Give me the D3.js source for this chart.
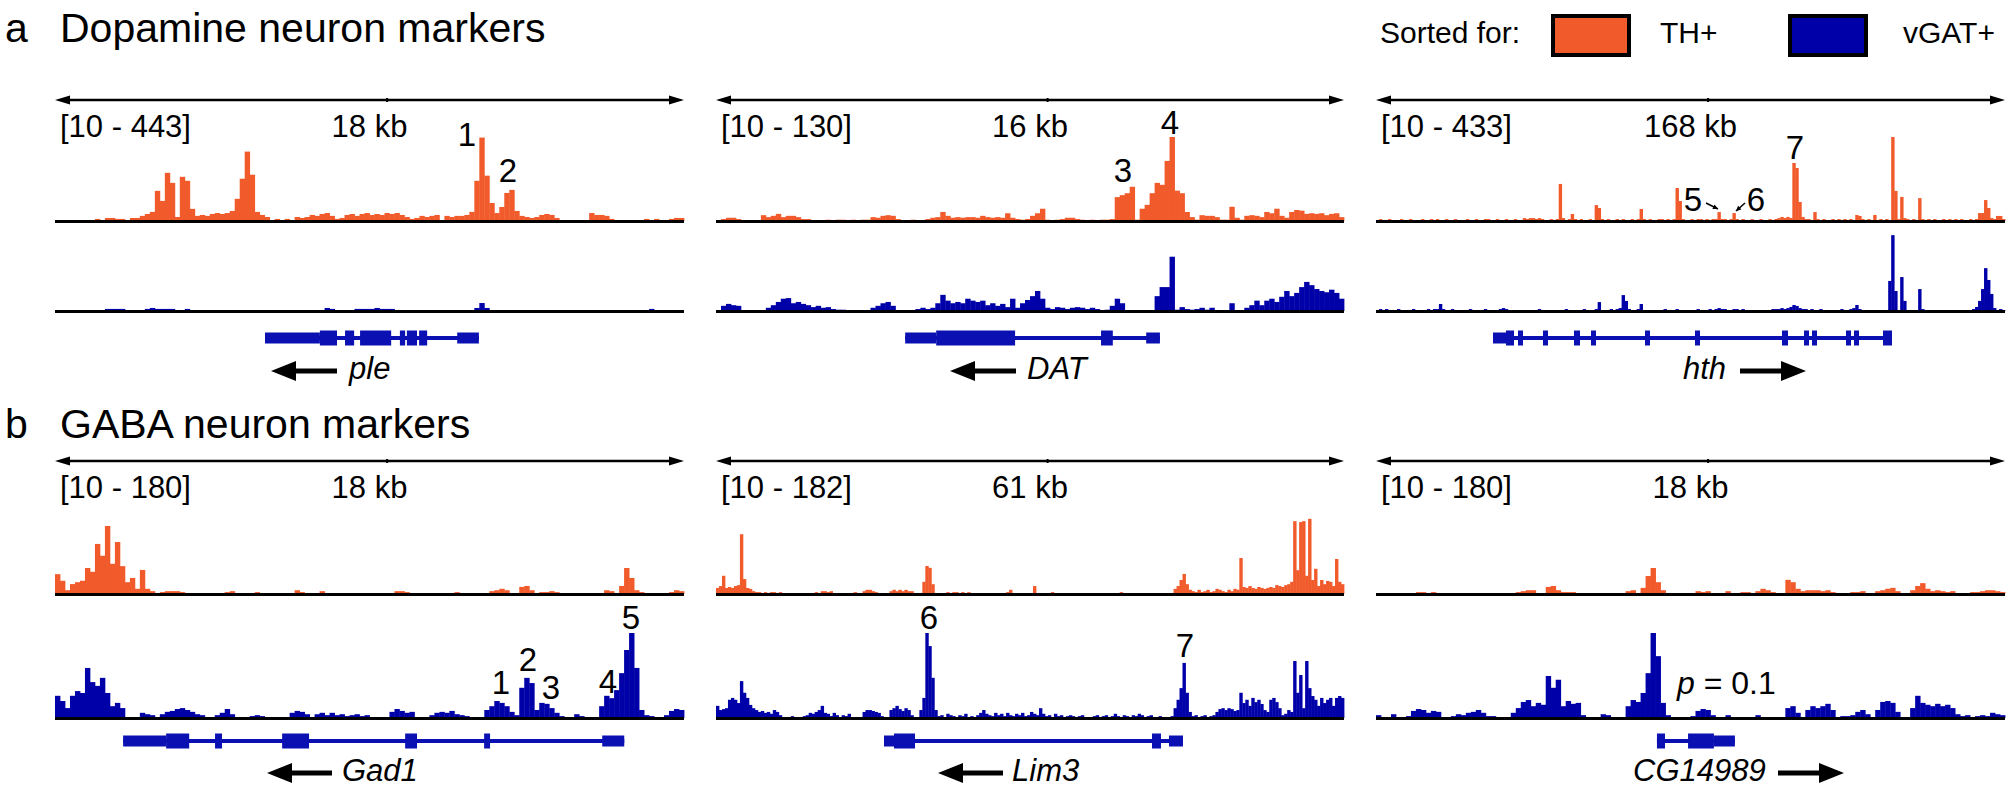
<!DOCTYPE html>
<html><head><meta charset="utf-8">
<script src="https://cdn.jsdelivr.net/npm/d3@7"></script>
<style>
body{margin:0;background:#fff}
svg{display:block}
text{font-family:"Liberation Sans",Arial,Helvetica,sans-serif;fill:#000}
</style>
</head><body>
<svg id="c" width="2006" height="791"></svg>
<script>
// ---------------- DATA ----------------
const rowLetters = ["a", "b"];
const rowTitles = ["Dopamine neuron markers", "GABA neuron markers"];
const legendTitle = "Sorted for:";
const seriesNames = ["TH+", "vGAT+"];
const geneNames = ["ple", "DAT", "hth", "Gad1", "Lim3", "CG14989"];
const geneStrand = [-1, -1, 1, -1, -1, 1];
const windowKb = [18, 16, 168, 18, 61, 18];
const windowLabels = ["18 kb", "16 kb", "168 kb", "18 kb", "61 kb", "18 kb"];
const rangeMin = [10, 10, 10, 10, 10, 10];
const rangeMax = [443, 130, 433, 180, 182, 180];

// coverage (binned, evenly spaced across each window)
const thPle = [5,5,0,5,5,0,5,5,11,5,16,16,11,11,5,16,16,27,37,48,159,106,254,201,21,233,212,64,27,32,27,37,42,37,42,53,117,223,366,244,48,32,21,5,11,5,11,5,21,16,21,32,27,37,42,27,11,16,32,37,27,37,42,32,37,32,42,37,42,32,21,11,16,27,21,27,32,5,27,21,27,27,32,48,212,440,239,95,42,74,148,164,53,27,21,16,21,32,37,32,16,5,5,0,5,5,5,42,32,32,27,11,5,0,5,5,0,5,11,5,11,5,5,11,16,16];
const vgPle = [0,5,5,0,0,5,5,5,0,0,11,11,11,11,0,0,5,0,11,16,11,11,11,11,0,0,11,5,0,0,0,0,5,0,0,0,0,0,5,0,0,0,0,0,0,0,0,0,0,0,0,0,0,0,16,11,0,0,0,5,11,11,11,11,16,11,11,11,5,5,0,0,0,0,0,0,0,0,0,0,0,0,0,0,16,42,16,5,0,5,0,0,0,0,0,0,0,0,0,0,0,0,0,0,0,0,0,0,0,0,0,0,0,0,0,0,0,0,5,11,5,0,0,0,0,0];
const thDat = [0,3,5,5,3,0,0,0,0,9,6,8,11,6,8,8,6,3,3,0,0,0,2,0,2,2,0,2,0,2,2,6,5,8,9,8,3,0,0,2,0,0,3,5,6,14,8,5,6,5,6,6,5,8,6,5,6,5,12,5,3,2,3,8,12,19,2,0,2,3,5,5,3,2,0,2,0,2,2,3,37,40,43,53,2,19,25,43,59,56,93,130,47,43,14,6,2,9,8,8,6,2,2,22,5,2,8,9,8,6,14,12,19,8,5,14,17,16,11,12,11,12,9,11,12,6];
const vgDat = [0,8,11,9,8,0,0,0,0,0,5,9,14,19,20,12,14,11,9,6,8,5,6,3,2,2,0,0,0,0,0,5,8,12,14,8,0,0,0,0,3,5,3,5,12,25,16,12,14,12,19,16,14,16,9,12,8,11,6,19,5,12,17,23,31,19,5,3,6,5,3,5,6,5,3,5,3,0,2,8,19,12,0,0,0,0,0,0,23,37,37,84,2,6,3,2,3,5,2,5,0,0,0,12,0,0,5,9,16,9,16,19,14,22,31,23,28,37,45,40,34,31,29,33,28,19];
const thHth = [5,10,5,5,10,5,0,5,10,5,5,10,5,5,0,10,5,5,10,5,10,5,5,10,5,5,10,5,0,5,10,5,5,10,5,5,10,10,5,5,10,5,5,10,5,5,10,5,5,15,10,15,15,10,15,10,5,5,10,5,10,191,15,5,10,36,10,5,10,5,5,10,5,82,67,10,5,10,5,5,10,5,10,5,5,10,5,10,62,10,5,10,5,5,10,10,5,10,5,10,170,103,10,5,5,10,5,10,10,5,10,5,10,10,46,10,10,5,10,41,10,5,10,5,5,10,5,5,10,5,5,10,5,10,15,21,15,21,15,299,273,98,21,10,10,5,46,10,5,10,5,5,10,5,10,5,10,5,10,5,31,26,10,5,10,5,31,5,10,5,10,5,433,155,10,124,15,10,5,10,5,118,10,5,10,5,10,5,5,10,5,10,5,10,5,10,5,5,10,5,10,41,41,108,67,15,10,26,26,10];
const vgHth = [5,10,5,10,5,0,5,10,5,5,0,5,10,5,0,5,5,10,5,10,10,36,10,5,5,10,5,5,0,5,5,10,5,5,0,5,10,5,0,5,5,10,15,10,5,5,0,5,5,0,5,5,0,5,10,5,0,5,0,5,5,0,5,10,0,5,5,0,5,10,5,0,5,10,46,5,5,0,10,5,10,15,82,52,10,5,5,10,36,5,5,0,5,0,5,5,10,0,5,0,10,5,5,0,5,0,5,10,5,0,5,10,5,10,15,10,10,5,5,10,10,5,10,5,5,0,5,0,5,5,5,5,10,10,10,15,10,15,21,31,26,15,10,10,5,10,5,5,10,5,5,0,5,5,5,10,5,5,10,15,31,10,5,5,5,0,0,0,5,0,0,155,391,103,5,175,52,5,0,0,5,113,10,0,0,0,0,0,5,0,0,0,0,5,5,5,0,5,5,10,21,52,113,221,160,88,15,5,10,5];
const thGad1 = [42,28,8,21,25,28,55,47,106,81,144,64,110,59,25,34,11,51,11,6,2,4,6,6,6,4,2,0,0,0,0,0,0,0,4,6,0,0,0,0,4,0,0,0,0,0,0,0,8,4,0,0,0,6,2,0,0,0,0,0,0,0,0,0,0,0,0,0,6,6,4,0,0,0,0,0,0,0,0,0,4,0,0,0,0,0,0,6,8,11,8,0,0,15,17,8,0,4,4,6,4,0,0,0,0,0,0,0,0,0,8,6,0,17,55,34,8,4,0,0,0,0,0,4,8,6];
const vgGad1 = [47,36,21,47,57,53,106,76,68,85,53,25,32,21,0,2,0,11,8,6,0,8,13,15,19,21,17,13,8,6,0,0,6,11,19,8,0,0,0,4,6,4,2,0,0,0,0,11,15,13,8,0,8,11,6,11,6,8,4,6,8,4,6,2,0,0,0,13,19,15,11,13,0,0,0,6,11,13,11,15,8,6,4,2,0,0,17,25,36,32,25,13,6,64,85,74,17,32,30,21,11,4,2,0,8,4,2,0,0,25,47,42,59,95,144,180,106,17,6,4,0,0,6,15,19,17];
const thLim3 = [13,17,39,13,15,13,17,19,128,32,13,11,6,4,4,2,4,2,4,4,2,4,0,2,0,2,2,0,2,0,2,2,2,4,2,6,6,4,6,2,0,2,2,2,0,2,4,2,2,6,9,9,6,4,0,0,0,0,6,9,6,9,6,9,6,6,0,0,0,26,60,56,21,2,0,2,0,4,2,4,4,2,4,2,4,2,0,2,0,2,2,0,2,2,0,2,2,4,9,2,0,2,0,2,2,0,17,2,0,2,2,0,4,2,2,0,2,2,0,2,2,0,2,0,0,0,0,2,2,0,2,2,2,0,2,4,2,0,2,2,0,2,2,0,2,2,2,0,0,0,0,0,0,11,17,30,43,21,9,6,4,9,4,6,9,4,6,11,9,6,4,9,6,11,9,77,15,13,17,13,11,15,13,11,13,15,13,19,17,15,19,21,26,156,51,154,156,39,161,30,54,17,30,21,28,26,17,75,26,21];
const vgLim3 = [26,17,19,21,39,43,39,32,79,54,43,28,21,17,13,15,11,13,9,17,13,6,2,0,0,4,2,0,2,4,6,11,9,13,17,26,11,9,4,11,6,2,6,4,9,2,0,2,0,13,17,17,15,13,11,4,0,0,17,21,26,19,15,21,17,6,0,0,17,43,182,154,86,17,4,6,2,9,6,4,2,6,4,9,2,4,2,6,11,17,9,6,4,11,6,9,4,11,6,4,9,6,11,4,6,13,9,6,21,9,4,6,2,9,4,6,2,4,6,4,2,4,6,2,0,2,4,6,2,4,6,2,4,9,4,2,6,4,2,6,4,9,6,2,4,6,2,0,4,2,0,0,4,21,39,64,118,54,13,4,6,2,4,6,2,4,6,13,19,21,17,21,19,15,17,54,32,39,26,43,34,39,30,17,13,39,43,34,21,6,9,17,13,122,54,92,21,122,64,47,39,26,43,32,39,43,26,43,47,43];
const thCG14989 = [0,0,0,0,0,0,0,0,4,4,2,4,0,0,0,0,0,0,0,0,0,2,0,0,0,0,0,0,4,6,8,8,0,0,15,17,8,4,4,4,2,0,0,0,0,0,0,0,0,0,6,8,0,13,38,55,25,8,0,0,0,0,0,2,6,4,6,2,0,0,6,0,0,4,4,0,6,11,8,4,0,0,30,25,11,6,8,8,8,6,8,4,0,0,2,4,4,6,2,0,6,8,11,13,6,0,0,8,17,23,11,6,8,6,4,6,2,0,2,4,4,6,8,8,6,4];
const vgCG14989 = [6,0,2,8,0,2,4,15,19,17,11,15,13,2,0,4,8,6,11,13,17,11,4,4,2,0,0,11,21,34,38,25,32,28,89,64,81,25,36,30,32,6,2,0,0,8,6,0,0,0,25,38,34,53,95,180,131,32,6,0,0,0,0,4,15,19,17,6,0,0,6,0,0,0,0,0,6,0,0,0,0,0,21,25,11,0,17,25,21,25,30,17,0,4,4,6,13,17,8,0,17,34,36,32,13,0,0,21,47,32,28,25,30,25,28,21,8,4,6,2,4,6,4,11,8,6];

// gene models: [startKb, endKb, part]
const modelPle = [[6.01,7.58,"utr"],[7.58,8.07,"cds"],[8.30,8.56,"cds"],[8.73,9.62,"cds"],[9.87,10.02,"cds"],[10.07,10.36,"cds"],[10.42,10.65,"cds"],[11.51,12.13,"utr"]];
const modelDat = [[4.82,5.61,"utr"],[5.61,7.62,"cds"],[9.81,10.11,"cds"],[10.96,11.31,"utr"]];
const modelHth = [[31.25,34.72,"utr"],[34.72,36.86,"cds"],[37.93,39.26,"cds"],[44.60,45.94,"cds"],[52.88,54.49,"cds"],[57.43,58.76,"cds"],[71.85,73.18,"cds"],[85.20,86.54,"cds"],[108.44,110.04,"cds"],[114.32,115.65,"cds"],[116.45,117.79,"cds"],[125.53,126.87,"cds"],[127.67,129.01,"cds"],[135.42,137.82,"cds"]];
const modelGad1 = [[1.95,3.18,"utr"],[3.18,3.84,"cds"],[4.58,4.78,"cds"],[6.50,7.27,"cds"],[10.02,10.36,"cds"],[12.28,12.45,"cds"],[15.66,16.29,"utr"]];
const modelLim3 = [[16.32,17.29,"utr"],[17.29,19.33,"cds"],[42.35,43.22,"cds"],[44.00,45.36,"utr"]];
const modelCG14989 = [[8.04,8.27,"cds"],[8.93,9.67,"cds"],[9.67,10.27,"utr"]];

// peak annotations: [panel, label, x px, baseline y px]
const peakLabels = [
  [0,"1",467,146],[0,"2",508,182],[1,"3",1123,182],[1,"4",1170,134],
  [2,"5",1693,211],[2,"6",1756,211],[2,"7",1795,159],
  [3,"1",501,694],[3,"2",528,671],[3,"3",551,699],[3,"4",608,693],[3,"5",631,629],
  [4,"6",929,629],[4,"7",1185,657]
];

// ---------------- LAYOUT ----------------
const thSeries = [thPle, thDat, thHth, thGad1, thLim3, thCG14989];
const vgSeries = [vgPle, vgDat, vgHth, vgGad1, vgLim3, vgCG14989];
const models = [modelPle, modelDat, modelHth, modelGad1, modelLim3, modelCG14989];
const ORANGE = "#F15A2B", BLUE = "#0000A8", GENE = "#0A10B2";
const cols = [[55,684],[716,1344],[1376,2005]];
const rows = [
  {title:42, ruler:100, label:137, thBase:221, vgBase:311, h:84, gene:338, gl:379},
  {title:438, ruler:461, label:498, thBase:594, vgBase:718, h:85, gene:741, gl:781}
];
// gene label layout: [arrowTail, arrowTip, textX]
const geneLabelPos = [[337,271,349],[1016,950,1027],[1740,1806,1683],[332,267,342],[1003,938,1012],[1778,1844,1633]];

const svg = d3.select("#c");
svg.append("rect").attr("width",2006).attr("height",791).attr("fill","#fff");

// titles
rows.forEach((r,i)=>{
  svg.append("text").attr("x",5).attr("y",r.title).attr("font-size",41).text(rowLetters[i]);
  svg.append("text").attr("x",60).attr("y",r.title).attr("font-size",41).text(rowTitles[i]);
});

// legend
svg.append("text").attr("x",1380).attr("y",43).attr("font-size",30).text(legendTitle);
const legX = [[1553,1660],[1790,1903]];
[ORANGE, BLUE].forEach((c,i)=>{
  svg.append("rect").attr("x",legX[i][0]).attr("y",16).attr("width",76).attr("height",39)
    .attr("fill",c).attr("stroke","#000").attr("stroke-width",4);
  svg.append("text").attr("x",legX[i][1]).attr("y",43).attr("font-size",30).text(seriesNames[i]);
});

function arrowHead(g, tipX, y, dir, len, half){
  g.append("path").attr("d",`M${tipX},${y} L${tipX-dir*len},${y-half} L${tipX-dir*len},${y+half} Z`).attr("fill","#000");
}

function drawTrack(g, values, x0, x1, base, h, max, color){
  const xs = d3.scaleLinear().domain([0, values.length]).range([x0, x1]);
  const ys = d3.scaleLinear().domain([0, max]).range([base, base - h]);
  g.append("g").selectAll("rect").data(values.map((v,i)=>({v,i})).filter(d=>d.v>0)).join("rect")
    .attr("x",d=>xs(d.i)).attr("width",d=>xs(d.i+1)-xs(d.i)+0.4)
    .attr("y",d=>ys(d.v)).attr("height",d=>base-ys(d.v)).attr("fill",color);
  g.append("line").attr("x1",x0).attr("x2",x1).attr("y1",base+0.5).attr("y2",base+0.5)
    .attr("stroke","#000").attr("stroke-width",3);
}

for(let p=0;p<6;p++){
  const r = rows[Math.floor(p/3)];
  const [x0,x1] = cols[p%3];
  const g = svg.append("g");
  const gx = d3.scaleLinear().domain([0, windowKb[p]]).range([x0, x1]);
  // ruler
  g.append("line").attr("x1",x0+8).attr("x2",x1-8).attr("y1",r.ruler).attr("y2",r.ruler)
    .attr("stroke","#000").attr("stroke-width",2.4);
  arrowHead(g, x0, r.ruler, -1, 15, 4.5);
  arrowHead(g, x1, r.ruler, 1, 15, 4.5);
  const mid = gx(windowKb[p]*0.528);
  g.append("line").attr("x1",mid).attr("x2",mid).attr("y1",r.ruler-2).attr("y2",r.ruler+2)
    .attr("stroke","#000").attr("stroke-width",2);
  // labels
  g.append("text").attr("x",x0+5).attr("y",r.label).attr("font-size",31)
    .text(`[${rangeMin[p]} - ${rangeMax[p]}]`);
  g.append("text").attr("x",(x0+x1)/2).attr("y",r.label).attr("font-size",31)
    .attr("text-anchor","middle").text(windowLabels[p]);
  // tracks
  drawTrack(g, thSeries[p], x0, x1, r.thBase, r.h, rangeMax[p], ORANGE);
  drawTrack(g, vgSeries[p], x0, x1, r.vgBase, r.h, rangeMax[p], BLUE);
  // gene model
  const m = models[p];
  const gs = gx(m[0][0]), ge = gx(m[m.length-1][1]);
  g.append("rect").attr("x",gs).attr("width",ge-gs).attr("y",r.gene-2).attr("height",4).attr("fill",GENE);
  g.append("g").selectAll("rect").data(m).join("rect")
    .attr("x",d=>gx(d[0])).attr("width",d=>Math.max(2,gx(d[1])-gx(d[0])))
    .attr("y",d=>r.gene-(d[2]==="cds"?7.5:5.5)).attr("height",d=>d[2]==="cds"?15:11)
    .attr("fill",GENE);
  // gene label + direction
  const [tail, tip, tx] = geneLabelPos[p];
  const dir = Math.sign(tip - tail);
  const ay = r.gl - 8;
  g.append("line").attr("x1",tail).attr("x2",tip - dir*20).attr("y1",ay).attr("y2",ay)
    .attr("stroke","#000").attr("stroke-width",5);
  arrowHead(g, tip, ay, dir, 25, 10);
  g.append("text").attr("x",tx).attr("y",r.gl).attr("font-size",31).attr("font-style","italic").text(geneNames[p]);
}

// peak numbers
svg.append("g").selectAll("text").data(peakLabels).join("text")
  .attr("x",d=>d[2]).attr("y",d=>d[3]).attr("font-size",33).attr("text-anchor","middle").text(d=>d[1]);

// small pointer arrows for peaks 5 and 6 (hth)
const pointers = [[1706,203,1718,209],[1745,203,1736,211]];
pointers.forEach(([ax,ay,bx,by])=>{
  svg.append("line").attr("x1",ax).attr("y1",ay).attr("x2",bx).attr("y2",by).attr("stroke","#000").attr("stroke-width",1.5);
  const ang = Math.atan2(by-ay,bx-ax), L=5, w=2.5;
  const px = bx - L*Math.cos(ang), py = by - L*Math.sin(ang);
  svg.append("path").attr("d",`M${bx},${by} L${px - w*Math.sin(ang)},${py + w*Math.cos(ang)} L${px + w*Math.sin(ang)},${py - w*Math.cos(ang)} Z`).attr("fill","#000");
});

// p-value annotation
const pt = svg.append("text").attr("x",1677).attr("y",694).attr("font-size",32);
pt.append("tspan").attr("font-style","italic").text("p");
pt.append("tspan").text(" = 0.1");
</script>
</body></html>
